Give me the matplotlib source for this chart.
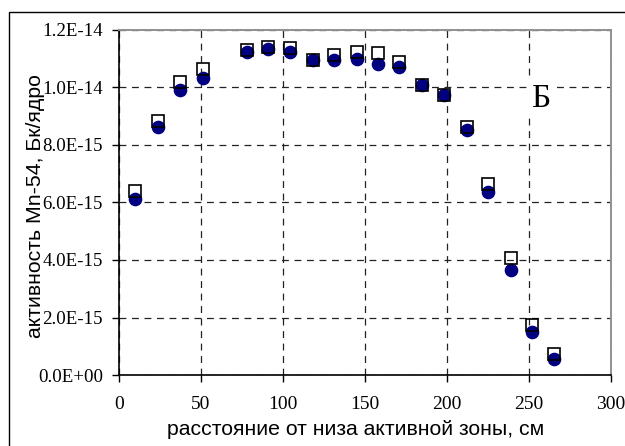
import matplotlib.pyplot as plt
from matplotlib.patches import Rectangle

# distance from the core bottom, cm
dist = [10, 24, 37, 51, 78, 91, 104, 118, 131, 145, 158, 171,
        185, 198, 212, 225, 239, 252, 265]
# measured (filled circles) and calculated (open squares) activity, Bq/nucleus
act_circ = [6.11e-15, 8.61e-15, 9.91e-15, 10.34e-15, 11.25e-15, 11.34e-15,
            11.25e-15, 10.95e-15, 10.96e-15, 11.00e-15, 10.83e-15, 10.72e-15,
            10.09e-15, 9.74e-15, 8.52e-15, 6.35e-15, 3.65e-15, 1.51e-15,
            0.56e-15]
act_sq = [6.41e-15, 8.82e-15, 10.20e-15, 10.64e-15, 11.30e-15, 11.40e-15,
          11.36e-15, 10.95e-15, 11.13e-15, 11.22e-15, 11.19e-15, 10.89e-15,
          10.09e-15, 9.74e-15, 8.64e-15, 6.63e-15, 4.08e-15, 1.74e-15,
          0.73e-15]

xticks = [0, 50, 100, 150, 200, 250, 300]
yticks = [0, 2e-15, 4e-15, 6e-15, 8e-15, 10e-15, 12e-15]
ytick_labels = ["0.0E+00", "2.0E-15", "4.0E-15", "6.0E-15",
                "8.0E-15", "1.0E-14", "1.2E-14"]

SERIF = "Liberation Serif"
SANS = "Liberation Sans"

fig = plt.figure(figsize=(6.25, 4.46), dpi=100)

# outer chart frame (right/bottom edges fall outside the image)
fig.patches.append(Rectangle((9 / 625, -0.05), 1.0, 1 - 12 / 446 + 0.05,
                             transform=fig.transFigure, fill=False,
                             edgecolor="black", lw=1.0))

ax = fig.add_axes([119 / 625, 1 - 375 / 446, 492 / 625, 345 / 446])

ax.plot(dist, act_circ, linestyle="none", marker="o", markersize=8.8,
        color="#000080", markeredgecolor="#000080", zorder=3)
ax.plot(dist, act_sq, linestyle="none", marker="s", markersize=8.0,
        markerfacecolor="none", markeredgecolor="black",
        markeredgewidth=1.2, zorder=4)

ax.set_xlim(0, 300)
ax.set_ylim(0, 1.2e-14)
ax.set_xticks(xticks)
ax.set_xticklabels([str(t) for t in xticks], fontfamily=SERIF, fontsize=14)
ax.set_yticks(yticks)
ax.set_yticklabels(ytick_labels, fontfamily=SERIF, fontsize=13.6)
ax.tick_params(direction="out", length=5, width=1)
ax.tick_params(axis="x", pad=10)
ax.tick_params(axis="y", pad=6.5)

ax.grid(True, color="#222222", linestyle=(0, (5.5, 4.5)), lw=0.9, zorder=1)
ax.set_axisbelow(True)

for side in ("top", "right"):
    ax.spines[side].set_color("#909090")
    ax.spines[side].set_linewidth(1.4)
for side in ("left", "bottom"):
    ax.spines[side].set_color("black")
    ax.spines[side].set_linewidth(1.2)

ax.set_xlabel("расстояние от низа активной зоны, см", fontfamily=SANS,
              fontsize=15.3, labelpad=5)
ax.xaxis.label.set_x(0.481)
ax.set_ylabel("активность Mn-54, Бк/ядро", fontfamily=SANS, fontsize=15.3,
              labelpad=-5)
ax.yaxis.label.set_y(0.49)

ax.text(251, 9.6e-15, "Б", fontfamily=SERIF, fontsize=24, ha="left",
        va="center", zorder=5,
        bbox=dict(facecolor="white", edgecolor="none", pad=2))

fig.savefig("out.png", dpi=100)
